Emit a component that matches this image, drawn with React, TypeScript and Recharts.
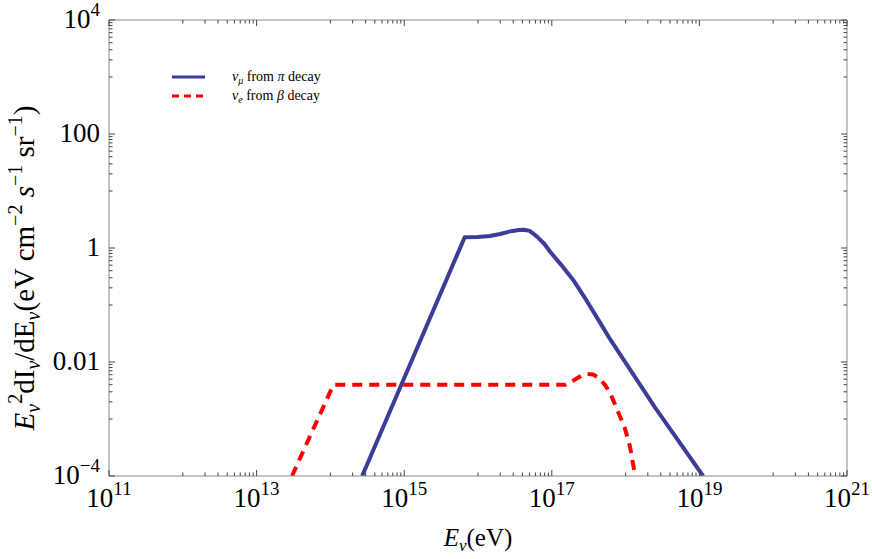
import React from 'react';
import { LineChart, Line, XAxis, YAxis, Legend } from 'recharts';

// log10 of E_nu (eV) and of E^2 dI/dE
const piLogE = [14.43, 15.82, 16.0, 16.16, 16.3, 16.45, 16.55, 16.62, 16.7, 16.8, 16.9, 16.98, 17.13, 17.29, 17.47, 17.65, 17.79, 18.4, 19.05];
const piLogFlux = [-4.0, 0.19, 0.195, 0.21, 0.245, 0.295, 0.315, 0.32, 0.3, 0.2, 0.07, -0.07, -0.3, -0.56, -0.92, -1.3, -1.6, -2.8, -4.0];

const betaLogE = [13.48, 14.04, 17.18, 17.3, 17.4, 17.48, 17.56, 17.63, 17.72, 17.79, 17.9, 17.99, 18.06, 18.13];
const betaLogFlux = [-4.0, -2.4, -2.4, -2.32, -2.24, -2.21, -2.22, -2.27, -2.4, -2.54, -2.88, -3.16, -3.49, -4.0];

// labelled ticks
const xLabelExps = [11, 13, 15, 17, 19, 21];
const yTickValues = [1e-4, 0.01, 1, 100, 1e4];
const yTickBase = ['10', '0.01', '1', '100', '10'];
const yTickSup = ['\u22124', '', '', '', '4'];
// decades that carry the small 1..9 ticks
const xMinorExps = [12, 14, 16, 18, 20];
const yMinorExps = [-3, -1, 1, 3];

const SERIF = 'Liberation Serif, Times New Roman, serif';
const BLUE = '#3d3d99';
const RED = '#ff0000';
const FRAME = '#8a8a8a';
const TICK = '#444';

const withMinors = (majors: number[], minorExps: number[]) => {
  const out = [...majors];
  minorExps.forEach((k) => {
    for (let c = 1; c <= 9; c++) out.push(c * Math.pow(10, k));
  });
  return out.sort((a, b) => a - b);
};

const xMajors = xLabelExps.map((k) => Math.pow(10, k));
const xTicks = withMinors(xMajors, xMinorExps);
const yTicks = withMinors(yTickValues, yMinorExps);

const near = (a: number, b: number) => Math.abs(Math.log10(a) - Math.log10(b)) < 1e-6;
const majorLen = 6;
const minorLen = 3.5;

const piData = piLogE.map((e, i) => ({ e: Math.pow(10, e), flux: Math.pow(10, piLogFlux[i]) }));
const betaData = betaLogE.map((e, i) => ({ e: Math.pow(10, e), flux: Math.pow(10, betaLogFlux[i]) }));

const labelStyle = { fontFamily: SERIF, fontSize: 27 };
const supStyle = { fontSize: 19 };

const BottomTick = (props: any) => {
  const { x, y, payload } = props;
  const idx = xMajors.findIndex((m) => near(m, payload.value));
  const major = idx >= 0;
  return (
    <g>
      <line x1={x} x2={x} y1={y} y2={y - (major ? majorLen : minorLen)} stroke={TICK} strokeWidth={1} />
      {major && (
        <text x={x} y={y + 31} textAnchor="middle" style={labelStyle} fill="#000">
          <tspan>10</tspan>
          <tspan dy={-12} style={supStyle}>{xLabelExps[idx]}</tspan>
        </text>
      )}
    </g>
  );
};

const TopTick = (props: any) => {
  const { x, y, payload } = props;
  const major = xMajors.some((m) => near(m, payload.value));
  return <line x1={x} x2={x} y1={y} y2={y + (major ? majorLen : minorLen)} stroke={TICK} strokeWidth={1} />;
};

const LeftTick = (props: any) => {
  const { x, y, payload } = props;
  const idx = yTickValues.findIndex((m) => near(m, payload.value));
  const major = idx >= 0;
  return (
    <g>
      <line x1={x} x2={x + (major ? majorLen : minorLen)} y1={y} y2={y} stroke={TICK} strokeWidth={1} />
      {major && (
        <text x={x - 9} y={y + 8} textAnchor="end" style={labelStyle} fill="#000">
          <tspan>{yTickBase[idx]}</tspan>
          {yTickSup[idx] && (
            <tspan dy={-12} style={supStyle}>{yTickSup[idx]}</tspan>
          )}
        </text>
      )}
    </g>
  );
};

const RightTick = (props: any) => {
  const { x, y, payload } = props;
  const major = yTickValues.some((m) => near(m, payload.value));
  return <line x1={x} x2={x - (major ? majorLen : minorLen)} y1={y} y2={y} stroke={TICK} strokeWidth={1} />;
};

const YTitle = () => (
  <text transform="translate(34,268) rotate(-90)" textAnchor="middle" fontFamily={SERIF} fontSize={29} fill="#000">
    <tspan fontStyle="italic">E</tspan>
    <tspan dy={6} fontSize={20} fontStyle="italic">ν</tspan>
    <tspan dy={-18} fontSize={20}>2</tspan>
    <tspan dy={12}>dI</tspan>
    <tspan dy={6} fontSize={20} fontStyle="italic">ν</tspan>
    <tspan dy={-6}>/dE</tspan>
    <tspan dy={6} fontSize={20} fontStyle="italic">ν</tspan>
    <tspan dy={-6}>(eV cm</tspan>
    <tspan dy={-12} fontSize={20}>{'\u22122'}</tspan>
    <tspan dy={12} fontStyle="italic"> s</tspan>
    <tspan dy={-12} fontSize={20}>{'\u22121'}</tspan>
    <tspan dy={12}> sr</tspan>
    <tspan dy={-12} fontSize={20}>{'\u22121'}</tspan>
    <tspan dy={12}>)</tspan>
  </text>
);

const XTitle = () => (
  <text x={478} y={546} textAnchor="middle" fontFamily={SERIF} fontSize={25} fill="#000">
    <tspan fontStyle="italic">E</tspan>
    <tspan dy={5} fontSize={17} fontStyle="italic">ν</tspan>
    <tspan dy={-5}>(eV)</tspan>
  </text>
);

const LegendBox = () => (
  <svg width={230} height={46} style={{ display: 'block' }}>
    <line x1={12} x2={45} y1={17} y2={17} stroke={BLUE} strokeWidth={3} />
    <text x={72} y={21} fontFamily={SERIF} fontSize={14} fill="#000">
      <tspan fontStyle="italic">ν</tspan>
      <tspan dy={3} fontSize={10} fontStyle="italic">μ</tspan>
      <tspan dy={-3}> from </tspan>
      <tspan fontStyle="italic">π</tspan>
      <tspan> decay</tspan>
    </text>
    <line x1={12} x2={45} y1={36} y2={36} stroke={RED} strokeWidth={3} strokeDasharray="7 5" />
    <text x={72} y={40} fontFamily={SERIF} fontSize={14} fill="#000">
      <tspan fontStyle="italic">ν</tspan>
      <tspan dy={3} fontSize={10} fontStyle="italic">e</tspan>
      <tspan dy={-3}> from </tspan>
      <tspan fontStyle="italic">β</tspan>
      <tspan> decay</tspan>
    </text>
  </svg>
);

export default function App() {
  return (
    <div style={{ position: 'absolute', left: 0, top: 0, width: 872, height: 559, background: '#fff' }}>
      <LineChart width={872} height={559} margin={{ top: 19, right: 24, bottom: 43, left: 49 }}>
        <XAxis
          xAxisId="bottom"
          type="number"
          dataKey="e"
          scale="log"
          domain={[1e11, 1e21]}
          allowDataOverflow
          ticks={xTicks}
          interval={0}
          tickSize={0}
          tickMargin={0}
          tick={BottomTick}
          axisLine={{ stroke: FRAME }}
          height={40}
        />
        <XAxis
          xAxisId="top"
          orientation="top"
          type="number"
          dataKey="e"
          scale="log"
          domain={[1e11, 1e21]}
          allowDataOverflow
          ticks={xTicks}
          interval={0}
          tickSize={0}
          tickMargin={0}
          tick={TopTick}
          axisLine={{ stroke: FRAME }}
          height={1}
        />
        <YAxis
          yAxisId="left"
          type="number"
          scale="log"
          domain={[1e-4, 1e4]}
          allowDataOverflow
          ticks={yTicks}
          interval={0}
          tickSize={0}
          tickMargin={0}
          tick={LeftTick}
          axisLine={{ stroke: FRAME }}
          width={60}
          label={<YTitle />}
        />
        <YAxis
          yAxisId="right"
          orientation="right"
          type="number"
          scale="log"
          domain={[1e-4, 1e4]}
          allowDataOverflow
          ticks={yTicks}
          interval={0}
          tickSize={0}
          tickMargin={0}
          tick={RightTick}
          axisLine={{ stroke: FRAME }}
          width={1}
        />
        <Legend
          layout="horizontal"
          verticalAlign="middle"
          align="center"
          content={<LegendBox />}
          wrapperStyle={{ left: 160, top: 60, width: 230, height: 46 }}
        />
        <Line
          xAxisId="bottom"
          yAxisId="left"
          data={piData}
          dataKey="flux"
          type="linear"
          stroke={BLUE}
          strokeWidth={4}
          strokeLinejoin="round"
          dot={false}
          isAnimationActive={false}
        />
        <Line
          xAxisId="bottom"
          yAxisId="left"
          data={betaData}
          dataKey="flux"
          type="linear"
          stroke={RED}
          strokeWidth={4}
          strokeDasharray="10 7"
          dot={false}
          isAnimationActive={false}
        />
      </LineChart>
      <svg width={872} height={559} style={{ position: 'absolute', left: 0, top: 0, pointerEvents: 'none' }}>
        <XTitle />
      </svg>
    </div>
  );
}
